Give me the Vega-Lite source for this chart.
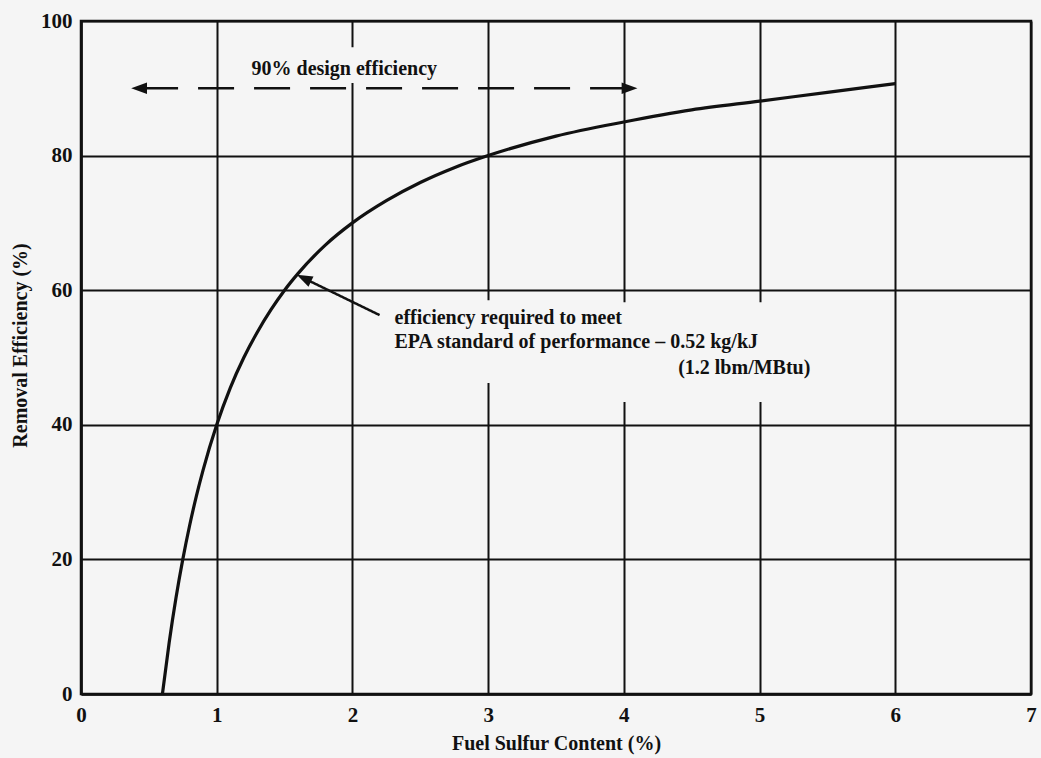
{
  "$schema": "https://vega.github.io/schema/vega-lite/v6.json",
  "width": 950,
  "height": 673,
  "autosize": {"type": "none"},
  "padding": {"left": 81, "top": 21, "right": 10, "bottom": 64},
  "background": "#f5f5f5",
  "config": {
    "view": {"stroke": "#111", "strokeWidth": 2.5},
    "font": "Liberation Serif",
    "axis": {
      "domainColor": "#111", "domainWidth": 2.5,
      "gridColor": "#111", "gridWidth": 2, "gridOpacity": 1,
      "ticks": false,
      "labelFont": "Liberation Serif", "labelFontWeight": "bold", "labelFontSize": 21, "labelColor": "#111",
      "titleFont": "Liberation Serif", "titleFontWeight": "bold", "titleFontSize": 20, "titleColor": "#111"
    }
  },
  "datasets": {
    "curve": [
      {"x": 0.6, "y": 0}, {"x": 0.65, "y": 7.7}, {"x": 0.7, "y": 14.3}, {"x": 0.75, "y": 20},
      {"x": 0.8, "y": 25}, {"x": 0.85, "y": 29.4}, {"x": 0.9, "y": 33.3}, {"x": 1.0, "y": 40},
      {"x": 1.1, "y": 45.5}, {"x": 1.2, "y": 50}, {"x": 1.3, "y": 53.8}, {"x": 1.4, "y": 57.1},
      {"x": 1.5, "y": 60}, {"x": 1.6, "y": 62.5}, {"x": 1.8, "y": 66.7}, {"x": 2.0, "y": 70},
      {"x": 2.25, "y": 73.3}, {"x": 2.5, "y": 76}, {"x": 2.75, "y": 78.2}, {"x": 3.0, "y": 80},
      {"x": 3.5, "y": 82.9}, {"x": 4.0, "y": 85}, {"x": 4.5, "y": 86.8}, {"x": 5.0, "y": 88.1},
      {"x": 5.5, "y": 89.4}, {"x": 6.0, "y": 90.7}
    ],
    "masks": [
      {"x": 1.3, "x2": 2.7, "y": 90.8, "y2": 96.1},
      {"x": 2.9, "x2": 3.1, "y": 46.2, "y2": 58.5},
      {"x": 3.9, "x2": 5.1, "y": 43.4, "y2": 58.2}
    ],
    "segments": [
      {"kind": "dashed", "x": 0.45, "y": 90, "x2": 4.0, "y2": 90},
      {"kind": "solid", "x": 2.2, "y": 56.3, "x2": 1.64, "y2": 61.8}
    ],
    "heads": [
      {"x": 0.37, "y": 90, "angle": 270},
      {"x": 4.1, "y": 90, "angle": 90},
      {"x": 1.59, "y": 62.3, "angle": 296}
    ],
    "centerLabels": [
      {"x": 1.94, "y": 92.9, "text": "90% design efficiency"}
    ],
    "leftLabels": [
      {"x": 2.31, "y": 55.9, "text": "efficiency required to meet"},
      {"x": 2.31, "y": 52.3, "text": "EPA standard of performance – 0.52 kg/kJ"},
      {"x": 4.40, "y": 48.4, "text": "(1.2 lbm/MBtu)"}
    ]
  },
  "layer": [
    {
      "data": {"name": "curve"},
      "mark": {"type": "line", "interpolate": "monotone", "color": "#111", "strokeWidth": 3.2},
      "encoding": {
        "x": {"field": "x", "type": "quantitative",
              "scale": {"domain": [0, 7], "nice": false},
              "axis": {"values": [0, 1, 2, 3, 4, 5, 6, 7], "format": "d", "labelFlush": false, "title": "Fuel Sulfur Content (%)", "labelPadding": 10, "titlePadding": 8}},
        "y": {"field": "y", "type": "quantitative",
              "scale": {"domain": [0, 100], "nice": false},
              "axis": {"values": [0, 20, 40, 60, 80, 100], "format": "d", "labelFlush": false, "title": "Removal Efficiency (%)", "labelPadding": 9,
                       "titleX": -61, "titleY": 324, "titleBaseline": "middle", "titleAlign": "center", "titleAngle": -90}}
      }
    },
    {
      "data": {"name": "masks"},
      "mark": {"type": "rect", "color": "#f5f5f5"},
      "encoding": {
        "x": {"field": "x", "type": "quantitative"},
        "x2": {"field": "x2"},
        "y": {"field": "y", "type": "quantitative"},
        "y2": {"field": "y2"}
      }
    },
    {
      "data": {"name": "segments"},
      "mark": {"type": "rule", "color": "#111", "strokeWidth": 2.5},
      "encoding": {
        "x": {"field": "x", "type": "quantitative"},
        "x2": {"field": "x2"},
        "y": {"field": "y", "type": "quantitative"},
        "y2": {"field": "y2"},
        "strokeDash": {"field": "kind", "type": "nominal", "legend": null,
                       "scale": {"domain": ["dashed", "solid"], "range": [[36, 20], [1, 0]]}}
      }
    },
    {
      "data": {"name": "heads"},
      "mark": {"type": "point", "shape": "M0,0L-0.36,1L0.36,1Z", "filled": true, "color": "#111", "opacity": 1, "size": 1000},
      "encoding": {
        "x": {"field": "x", "type": "quantitative"},
        "y": {"field": "y", "type": "quantitative"},
        "angle": {"field": "angle", "type": "quantitative", "scale": null}
      }
    },
    {
      "data": {"name": "centerLabels"},
      "mark": {"type": "text", "font": "Liberation Serif", "fontWeight": "bold", "fontSize": 20, "color": "#111", "baseline": "middle", "align": "center"},
      "encoding": {
        "x": {"field": "x", "type": "quantitative"},
        "y": {"field": "y", "type": "quantitative"},
        "text": {"field": "text"}
      }
    },
    {
      "data": {"name": "leftLabels"},
      "mark": {"type": "text", "font": "Liberation Serif", "fontWeight": "bold", "fontSize": 20, "color": "#111", "baseline": "middle", "align": "left"},
      "encoding": {
        "x": {"field": "x", "type": "quantitative"},
        "y": {"field": "y", "type": "quantitative"},
        "text": {"field": "text"}
      }
    }
  ]
}
